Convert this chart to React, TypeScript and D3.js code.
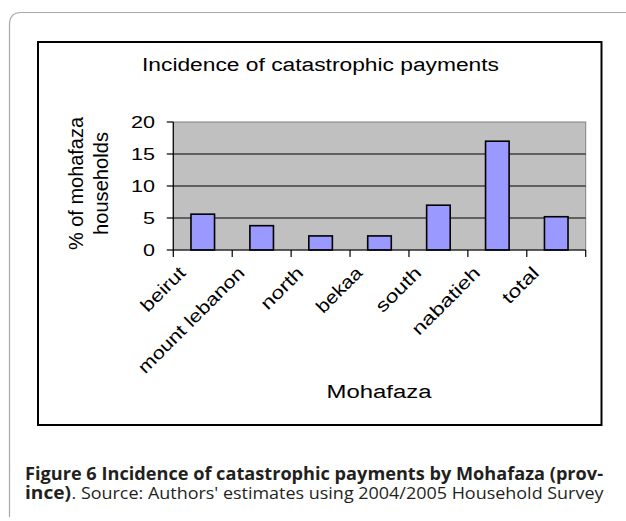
import React from "react";
import * as d3 from "d3";

const categories = ["beirut", "mount lebanon", "north", "bekaa", "south", "nabatieh", "total"];
const values = [5.6, 3.8, 2.2, 2.2, 7.0, 17.0, 5.2];
const yTicks = [0, 5, 10, 15, 20];
const title = "Incidence of catastrophic payments";
const yLabel = ["% of mohafaza", "households"];
const xLabel = "Mohafaza";
const captionBold1 = "Figure 6 Incidence of catastrophic payments by Mohafaza (prov-";
const captionBold2 = "ince)";
const captionRest = ". Source: Authors' estimates using 2004/2005 Household Survey";

// rendered label lengths along the rotated baseline
const labelLen: Record<string, number> = {
  beirut: 55,
  "mount lebanon": 142,
  north: 52,
  bekaa: 57,
  south: 56,
  nabatieh: 88,
  total: 44,
};

const W = 626;
const H = 521;
const PL = 173.3, PR = 585.7, PT = 122, PB = 250;
const FONT = "'Liberation Sans', Arial, sans-serif";
const CAP = "'Open Sans', 'Noto Sans', sans-serif";

export default function App() {
  const x = d3.scaleBand<string>().domain(categories).range([PL, PR]).paddingInner(0.6).paddingOuter(0.3);
  const y = d3.scaleLinear().domain([0, 20]).range([PB, PT]);
  const step = x.step();
  const bounds = categories.map((c) => (x(c) as number) - step * 0.3).concat([PR]);

  return (
    <svg width={W} height={H} style={{ position: "absolute", left: 0, top: 0, background: "#fff" }}>
      {/* outer figure frame */}
      <path d={`M9.5,517 L9.5,24.5 Q9.5,12.5 21.5,12.5 L626,12.5`} fill="none" stroke="#a8a8a8" strokeWidth={1.2} />
      {/* chart box */}
      <rect x={38} y={42} width={563.5} height={383} fill="#fff" stroke="#000" strokeWidth={2} />
      <text x={320.5} y={71} textAnchor="middle" fontFamily={FONT} fontSize={18} textLength={357} lengthAdjust="spacingAndGlyphs">{title}</text>

      {/* plot area */}
      <rect x={PL} y={PT} width={PR - PL} height={PB - PT} fill="#c0c0c0" stroke="#808080" strokeWidth={1} />
      {yTicks.filter((t) => t > 0 && t < 20).map((t) => (
        <line key={t} x1={PL} x2={PR} y1={y(t)} y2={y(t)} stroke="#000" strokeWidth={1.2} />
      ))}
      {/* bars */}
      {categories.map((c, i) => (
        <rect key={c} x={x(c)} y={y(values[i])} width={x.bandwidth()} height={PB - y(values[i])} fill="#9999ff" stroke="#000" strokeWidth={1.6} />
      ))}
      {/* axes */}
      <line x1={PL} x2={PL} y1={PT} y2={PB} stroke="#000" strokeWidth={1.2} />
      <line x1={PL} x2={PR} y1={PB} y2={PB} stroke="#000" strokeWidth={1.2} />
      {yTicks.map((t) => (
        <g key={t}>
          <line x1={PL - 6.5} x2={PL} y1={y(t)} y2={y(t)} stroke="#000" strokeWidth={1.2} />
          <text x={155} y={y(t) + 6} textAnchor="end" fontFamily={FONT} fontSize={16} textLength={String(t).length * 12} lengthAdjust="spacingAndGlyphs">{t}</text>
        </g>
      ))}
      {bounds.map((b, i) => (
        <line key={i} x1={b} x2={b} y1={PB} y2={PB + 7} stroke="#000" strokeWidth={1.2} />
      ))}
      {categories.map((c) => {
        const cx = (x(c) as number) + x.bandwidth() / 2 - 16;
        return (
          <text key={c} transform={`translate(${cx},274) rotate(-45)`} textAnchor="end" fontFamily={FONT} fontSize={18} textLength={labelLen[c]} lengthAdjust="spacingAndGlyphs">{c}</text>
        );
      })}
      {/* y label */}
      <text transform="translate(82.5,183.5) rotate(-90)" textAnchor="middle" fontFamily={FONT} fontSize={20} textLength={133} lengthAdjust="spacingAndGlyphs">{yLabel[0]}</text>
      <text transform="translate(108,183.5) rotate(-90)" textAnchor="middle" fontFamily={FONT} fontSize={20} textLength={103} lengthAdjust="spacingAndGlyphs">{yLabel[1]}</text>
      {/* x label */}
      <text x={379} y={397.7} textAnchor="middle" fontFamily={FONT} fontSize={18} textLength={105} lengthAdjust="spacingAndGlyphs">{xLabel}</text>

      {/* caption */}
      <text x={25} y={479.5} fontFamily={CAP} fontWeight={700} fontSize={17} fill="#231f20" textLength={578} lengthAdjust="spacingAndGlyphs">{captionBold1}</text>
      <text x={25} y={499} fontFamily={CAP} fontWeight={700} fontSize={17} fill="#231f20" textLength={46} lengthAdjust="spacingAndGlyphs">{captionBold2}</text>
      <text x={71.5} y={499} fontFamily={CAP} fontWeight={400} fontSize={17} fill="#231f20" textLength={532} lengthAdjust="spacingAndGlyphs">{captionRest}</text>
    </svg>
  );
}
